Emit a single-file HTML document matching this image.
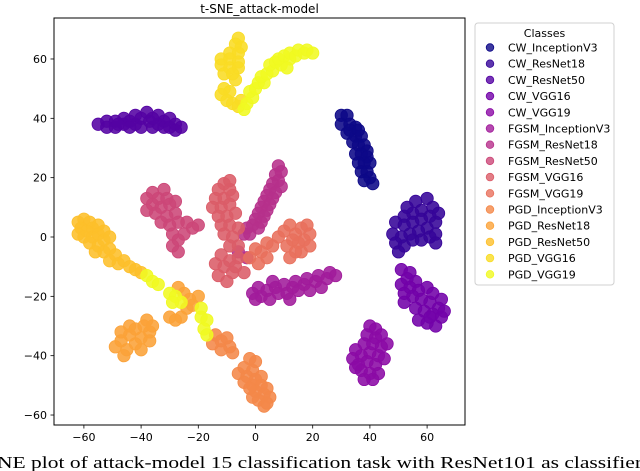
<!DOCTYPE html>
<html><head><meta charset="utf-8"><style>
html,body{margin:0;padding:0;background:#fff;}
svg{display:block;font-family:"DejaVu Sans","Liberation Sans",sans-serif;}
</style></head><body>
<svg id="chart" width="640" height="471" viewBox="0 0 640 471">
<text x="259.5" y="13" font-size="12" text-anchor="middle">t-SNE_attack-model</text>
<g id="plot"></g>
<rect x="54" y="18" width="411" height="407" fill="none" stroke="#000" stroke-width="1"/>
<g id="xaxis"></g>
<g id="yaxis"></g>
<g id="legend"></g>
<text x="-3" y="468" font-size="17" textLength="645" lengthAdjust="spacingAndGlyphs" font-family="'Liberation Serif',serif">NE plot of attack-model 15 classification task with ResNet101 as classifier</text>
</svg>
<script>
const classNames=["CW_InceptionV3","CW_ResNet18","CW_ResNet50","CW_VGG16","CW_VGG19","FGSM_InceptionV3","FGSM_ResNet18","FGSM_ResNet50","FGSM_VGG16","FGSM_VGG19","PGD_InceptionV3","PGD_ResNet18","PGD_ResNet50","PGD_VGG16","PGD_VGG19"];
const classColors=["#0d0887","#350498","#5402a3","#7201a8","#8b0aa5","#a11b9b","#b6308b","#cc4778","#db5c68","#e8705c","#f48849","#fba238","#fdbf2a","#f9dc24","#f0f921"];
const xTicks=[-60,-40,-20,0,20,40,60];
const yTicks=[-60,-40,-20,0,20,40,60];
const cwInceptionV3=[[30,41],[32,41],[30,38],[33,38],[35,37],[32,35],[35,34],[37,34],[34,32],[36,31],[38,31],[39,29],[35,28],[37,28],[39,27],[36,25],[38,25],[40,25],[37,22],[39,22],[40,20],[38,19],[41,18],[33,36],[36,36]];
const cwResNet18=[[56,12],[60,13],[62,10],[58,9],[55,8],[52,7],[49,5],[52,4],[55,5],[58,6],[61,7],[63,5],[60,3],[57,2],[54,1],[51,0],[48,1],[49,-2],[52,-3],[55,-1],[58,-1],[61,0],[63,1],[63,-2],[50,-5],[64,8],[53,10]];
const cwResNet50=[[-55,38],[-52,39],[-52,37],[-49,39],[-49,37],[-46,40],[-46,38],[-44,39],[-42,41],[-42,38],[-40,40],[-40,37],[-38,42],[-37,39],[-36,37],[-34,41],[-34,38],[-32,39],[-32,37],[-30,40],[-30,37],[-28,38],[-28,36],[-26,37],[-44,37],[-48,38],[-36,40]];
const cwVGG16=[[51,-11],[54,-12],[53,-14],[56,-15],[51,-16],[54,-17],[57,-18],[60,-17],[62,-19],[65,-21],[52,-19],[55,-20],[58,-21],[61,-22],[64,-24],[56,-24],[59,-25],[62,-26],[65,-27],[57,-28],[60,-29],[63,-30],[61,-27],[66,-25],[52,-22]];
const cwVGG19=[[40,-30],[42,-31],[39,-33],[42,-34],[44,-33],[38,-36],[41,-36],[44,-37],[46,-36],[35,-38],[37,-40],[40,-39],[43,-40],[34,-41],[36,-43],[39,-42],[42,-43],[45,-41],[37,-45],[40,-46],[43,-46],[41,-48],[38,-48],[35,-44]];
const fgsmInceptionV3=[[-1,-19],[1,-17],[2,-20],[4,-18],[5,-21],[7,-17],[8,-19],[10,-16],[11,-19],[13,-17],[14,-15],[15,-18],[17,-16],[18,-14],[19,-18],[21,-15],[22,-13],[23,-17],[25,-14],[26,-12],[28,-13],[6,-15],[12,-21],[0,-21]];
const fgsmResNet18=[[8,24],[9,22],[7,21],[8,19],[6,18],[9,17],[5,16],[7,15],[4,14],[6,13],[3,12],[5,11],[2,10],[4,9],[1,8],[3,7],[0,6],[2,5],[-1,4],[-3,3],[-4,1],[1,3],[-2,1],[-6,-5],[-3,-7]];
const fgsmResNet50=[[-38,13],[-36,15],[-34,13],[-32,16],[-31,13],[-36,11],[-33,10],[-30,11],[-28,12],[-35,8],[-31,7],[-28,8],[-33,5],[-30,4],[-27,5],[-24,5],[-22,3],[-20,4],[-29,1],[-27,-1],[-29,-3],[-27,-5],[-25,1],[-38,9]];
const fgsmVGG16=[[-11,18],[-9,19],[-13,16],[-9,16],[-14,13],[-11,13],[-8,14],[-15,10],[-12,10],[-9,11],[-13,7],[-10,7],[-7,8],[-12,4],[-9,4],[-6,3],[-11,1],[-8,0],[-6,-3],[-9,-3],[-12,-6],[-9,-8],[-6,-7],[-14,-9],[-11,-10],[-8,-12],[-13,-13],[-10,-15],[-7,-10],[-4,-12]];
const fgsmVGG19=[[8,0],[10,2],[12,4],[14,1],[16,3],[18,4],[19,1],[17,-1],[15,-2],[13,-1],[11,-3],[14,-5],[12,-7],[16,-5],[6,-3],[4,-2],[2,-5],[0,-4],[-2,-7],[1,-9],[4,-7],[19,-3]];
const pgdInceptionV3=[[-2,-41],[0,-42],[-4,-44],[-1,-45],[-6,-46],[-3,-47],[0,-48],[2,-47],[-4,-49],[-1,-50],[2,-50],[4,-51],[0,-52],[3,-53],[5,-54],[1,-55],[3,-57],[4,-56],[-1,-54],[-2,-51],[-14,-33],[-12,-35],[-10,-34],[-9,-37],[-12,-38],[-8,-39],[-15,-36]];
const pgdResNet18=[[-49,-37],[-47,-35],[-45,-38],[-44,-33],[-42,-36],[-40,-34],[-42,-31],[-39,-30],[-37,-32],[-38,-28],[-36,-30],[-47,-32],[-44,-30],[-40,-38],[-37,-35],[-46,-40],[-27,-17],[-25,-19],[-23,-21],[-24,-24],[-22,-23],[-26,-27],[-28,-28],[-20,-20],[-30,-27]];
const pgdResNet50=[[-62,5],[-60,6],[-58,5],[-61,3],[-59,2],[-57,3],[-55,4],[-60,0],[-57,0],[-55,1],[-53,2],[-58,-2],[-55,-3],[-53,-1],[-51,0],[-56,-5],[-53,-5],[-51,-4],[-49,-6],[-51,-8],[-48,-9],[-46,-8],[-44,-10],[-42,-11],[-40,-12],[-62,1]];
const pgdVGG16=[[-6,67],[-7,65],[-5,64],[-9,62],[-6,62],[-12,60],[-9,60],[-6,59],[-12,58],[-9,57],[-6,57],[-11,55],[-8,55],[-7,53],[-11,50],[-9,49],[-12,48],[-10,46],[-8,45],[-6,44],[-5,46]];
const pgdVGG19=[[-4,43],[-3,45],[-1,47],[-2,49],[0,50],[1,52],[3,52],[2,54],[4,55],[6,56],[5,58],[7,59],[9,58],[8,60],[10,61],[12,60],[12,62],[14,61],[15,63],[17,62],[18,63],[20,62],[11,57],[-38,-13],[-36,-15],[-34,-16],[-30,-19],[-28,-20],[-26,-22],[-29,-22],[-19,-27],[-17,-28],[-18,-31],[-17,-33],[-19,-24]];
const seriesPoints=[cwInceptionV3,cwResNet18,cwResNet50,cwVGG16,cwVGG19,fgsmInceptionV3,fgsmResNet18,fgsmResNet50,fgsmVGG16,fgsmVGG19,pgdInceptionV3,pgdResNet18,pgdResNet50,pgdVGG16,pgdVGG19];

const NS="http://www.w3.org/2000/svg";
function xScale(v){return 255.5+v*2.86;}
function yScale(v){return 237+(-v)*2.967;}
function mk(tag,attrs){const e=document.createElementNS(NS,tag);for(const k in attrs)e.setAttribute(k,attrs[k]);return e;}

const plot=document.getElementById('plot');
seriesPoints.forEach((pts,i)=>{
  const g=mk('g',{});
  
  
  pts.forEach(p=>{
    const c=mk('circle',{cx:xScale(p[0]),cy:yScale(p[1]),r:6.2,fill:classColors[i],'fill-opacity':0.88,stroke:classColors[i],'stroke-width':0.8});
    
    
    g.appendChild(c);
  });
  plot.appendChild(g);
});

const xa=document.getElementById('xaxis');
xTicks.forEach(t=>{
  const x=xScale(t);
  const l=mk('line',{x1:x,x2:x,y1:425,y2:428.5,stroke:'#000','stroke-width':0.8});
  
  
  xa.appendChild(l);
  const tx=mk('text',{x:x,y:441,'font-size':11,'text-anchor':'middle'});
  
  
  tx.textContent=(t<0?'\u2212'+(-t):String(t));
  xa.appendChild(tx);
});
const ya=document.getElementById('yaxis');
yTicks.forEach(t=>{
  const y=yScale(t);
  const l=mk('line',{x1:50.5,x2:54,y1:y,y2:y,stroke:'#000','stroke-width':0.8});
  
  
  ya.appendChild(l);
  const tx=mk('text',{x:47,y:y+4,'font-size':11,'text-anchor':'end'});
  
  
  tx.textContent=(t<0?'\u2212'+(-t):String(t));
  ya.appendChild(tx);
});

const lg=document.getElementById('legend');
const box=mk('rect',{x:475,y:23,width:139,height:262,rx:3,fill:'#fff',stroke:'#d0d0d0','stroke-width':1});


lg.appendChild(box);
const lt=mk('text',{x:544.5,y:37,'font-size':11,'text-anchor':'middle'});


lt.textContent='Classes';
lg.appendChild(lt);
classNames.forEach((n,i)=>{
  const y=47.5+i*16.2;
  const c=mk('circle',{cx:490,cy:y,r:3.8,fill:classColors[i],'fill-opacity':0.8,stroke:classColors[i],'stroke-width':0.8});
  
  
  lg.appendChild(c);
  const t=mk('text',{x:508,y:y+4,'font-size':11});
  
  
  t.textContent=n;
  lg.appendChild(t);
});
</script>
</body></html>
